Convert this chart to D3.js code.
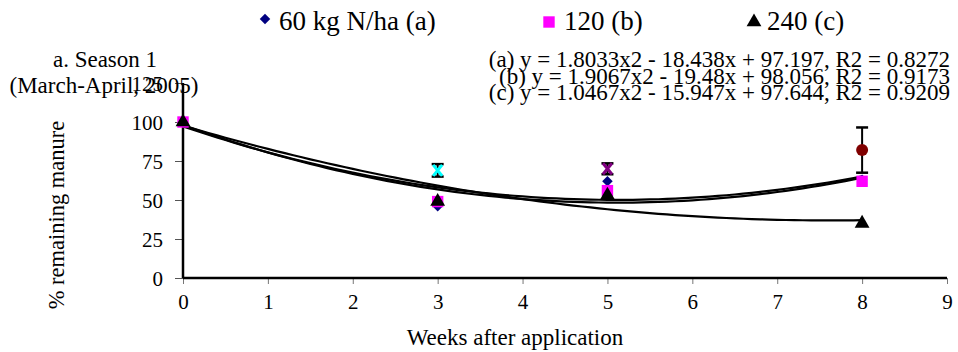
<!DOCTYPE html>
<html><head><meta charset="utf-8">
<script src="https://d3js.org/d3.v7.min.js"></script>
<style>body{margin:0;background:#fff}svg{display:block}svg text{font-family:"Liberation Serif","Times New Roman",serif !important;fill:#000}</style>
</head><body><svg id="c" width="958" height="352"></svg>
<script>
const weeks = [0, 3, 5, 8];
const seriesNames = ["60 kg N/ha (a)", "120 (b)", "240 (c)"];
const valuesA = [100, 46, 62, 63];
const valuesB = [100, 49, 56, 62];
const valuesC = [100, 49, 53, 35];
const fitCoefA = [1.8033, -18.438, 97.197];
const fitCoefB = [1.9067, -19.48, 98.056];
const fitCoefC = [1.0467, -15.947, 97.644];
const equations = [
  "(a) y = 1.8033x2 - 18.438x + 97.197, R2 = 0.8272",
  "(b) y = 1.9067x2 - 19.48x + 98.056, R2 = 0.9173",
  "(c) y = 1.0467x2 - 15.947x + 97.644, R2 = 0.9209"
];
const errWeeks = [3, 5, 8];
const errMeans = [69, 70, 82];
const errSE = [4, 3.5, 14.5];
const xTicks = [0,1,2,3,4,5,6,7,8,9];
const yTicks = [0,25,50,75,100,125];

const FONT = "Liberation Serif, Times New Roman, serif";
const svg = d3.select("#c");
const x = d3.scaleLinear().domain([0, 9]).range([183, 947]);
const y = d3.scaleLinear().domain([0, 125]).range([278, 83]);

// axes
const yAxis = svg.append("g").attr("transform", `translate(${x(0)},0)`)
  .call(d3.axisLeft(y).tickValues(yTicks).tickSize(8).tickPadding(12).tickFormat(d3.format("d")));
yAxis.attr("font-family", FONT);
yAxis.selectAll(".tick line").attr("stroke", "#555").attr("stroke-width", 1);
yAxis.selectAll(".tick text").attr("font-size", 21).style("font-family", FONT).attr("dy", "0.35em");

const xAxis = svg.append("g").attr("transform", `translate(0,${y(0)})`)
  .call(d3.axisBottom(x).tickValues(xTicks).tickSize(6).tickPadding(10).tickFormat(d3.format("d")));
xAxis.attr("font-family", FONT);
xAxis.selectAll(".tick line").attr("stroke", "#777").attr("stroke-width", 1);
xAxis.selectAll(".tick text").attr("font-size", 21).style("font-family", FONT);

yAxis.select(".domain").remove();
xAxis.select(".domain").remove();
svg.append("line").attr("x1", x(0)).attr("x2", x(0)).attr("y1", y(125)).attr("y2", y(0)).attr("stroke", "#000").attr("stroke-width", 2.5);
svg.append("line").attr("x1", x(0)).attr("x2", x(9)).attr("y1", y(0)).attr("y2", y(0)).attr("stroke", "#000").attr("stroke-width", 2.5);

// trend lines
const fits = [fitCoefA, fitCoefB, fitCoefC];
const line = d3.line().x(d => x(d[0])).y(d => y(d[1]));
fits.forEach(c => {
  const pts = d3.range(0, 8.001, 0.1).map(t => [t, c[0]*t*t + c[1]*t + c[2]]);
  svg.append("path").attr("d", line(pts)).attr("fill", "none").attr("stroke", "#000").attr("stroke-width", 2.2);
});

// markers
const sym = {
  diamond: d3.symbol().type(d3.symbolDiamond2).size(70),
  square: d3.symbol().type(d3.symbolSquare).size(130),
  triangle: d3.symbol().type(d3.symbolTriangle).size(95)
};
function drawSeries(vals, s, color) {
  svg.append("g").selectAll("path").data(vals).join("path")
    .attr("d", s).attr("fill", color)
    .attr("transform", (d, i) => `translate(${x(weeks[i])},${y(d)})`);
}
drawSeries(valuesA, sym.diamond, "#000080");
drawSeries(valuesB, sym.square, "#ff00ff");
drawSeries(valuesC, sym.triangle, "#000");

// error bar series
const errColors = ["#00ffff", "#800080", "#800000"];
errWeeks.forEach((w, i) => {
  const cx = x(w), m = errMeans[i], e = errSE[i];
  const g = svg.append("g");
  g.append("line").attr("x1", cx).attr("x2", cx).attr("y1", y(m+e)).attr("y2", y(m-e)).attr("stroke", "#000").attr("stroke-width", 2);
  [m+e, m-e].forEach(v => g.append("line").attr("x1", cx-6).attr("x2", cx+6).attr("y1", y(v)).attr("y2", y(v)).attr("stroke", "#000").attr("stroke-width", 2.5));
  if (i < 2) {
    const cy = y(m), h = 5.5, wdt = 4.5;
    g.append("path").attr("d", `M${cx-wdt},${cy-h}L${cx+wdt},${cy+h}M${cx+wdt},${cy-h}L${cx-wdt},${cy+h}`)
      .attr("stroke", errColors[i]).attr("stroke-width", 3).attr("fill", "none");
  } else {
    g.append("circle").attr("cx", cx).attr("cy", y(m)).attr("r", 6).attr("fill", errColors[i]);
  }
});

// legend
const legItems = [
  {sym: sym.diamond, color: "#000080", mx: 265, tx: 279},
  {sym: sym.square, color: "#ff00ff", mx: 549, tx: 564},
  {sym: sym.triangle, color: "#000", mx: 754, tx: 767}
];
legItems.forEach((l, i) => {
  svg.append("path").attr("d", l.sym).attr("fill", l.color).attr("transform", `translate(${l.mx},${i===0?19:22})`);
  svg.append("text").attr("x", l.tx).attr("y", 30).attr("font-size", 27).style("font-family", FONT).text(seriesNames[i]);
});

// title
svg.append("text").attr("x", 105).attr("y", 67).attr("text-anchor", "middle").attr("font-size", 23).style("font-family", FONT).text("a. Season 1");
svg.append("text").attr("x", 104).attr("y", 93).attr("text-anchor", "middle").attr("font-size", 23).style("font-family", FONT).text("(March-April, 2005)");

// equations
const eqY = [67, 84, 100];
equations.forEach((t, i) => {
  svg.append("text").attr("x", 950).attr("y", eqY[i]).attr("text-anchor", "end").attr("font-size", 23).style("font-family", FONT).text(t);
});

// axis titles
svg.append("text").attr("x", 515).attr("y", 345).attr("text-anchor", "middle").attr("font-size", 23).style("font-family", FONT).text("Weeks after application");
svg.append("text").attr("transform", "translate(64,215) rotate(-90)").attr("text-anchor", "middle").attr("font-size", 22.5).style("font-family", FONT).text("% remaining manure");
</script></body></html>
